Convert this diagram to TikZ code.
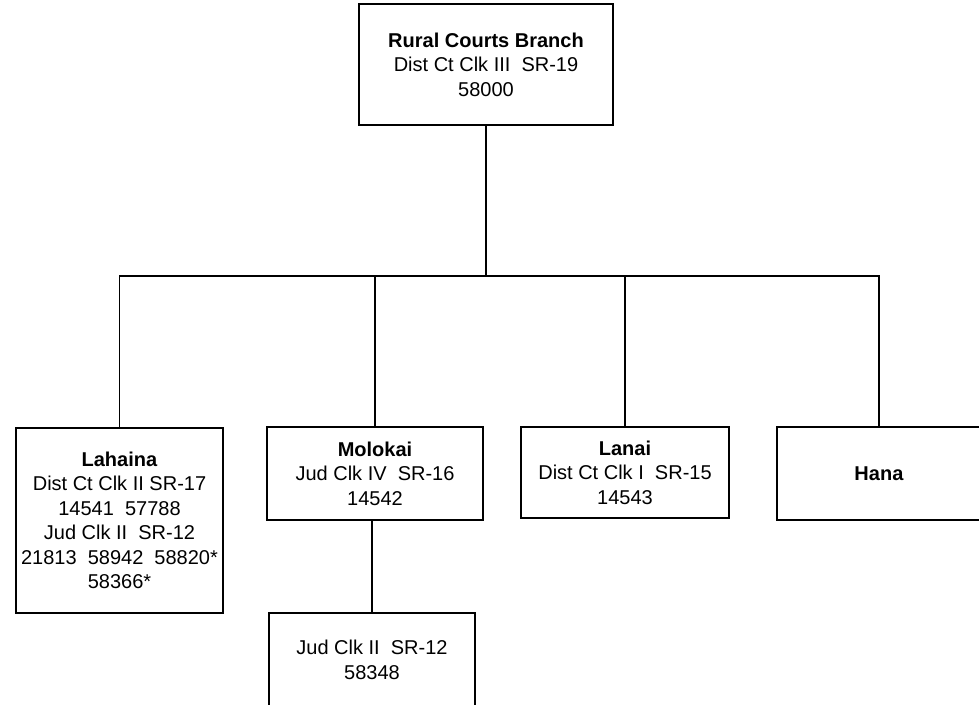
\documentclass[tikz,border=0pt]{standalone}
\usepackage{fontspec}
\setmainfont{Liberation Sans}
\begin{document}
\begin{tikzpicture}[x=1pt,y=-1pt,
  box/.style={draw=black,line width=1.6pt,rectangle,inner sep=0pt,align=center,
    font=\fontsize{20}{24.5}\selectfont},
  conn/.style={draw=black,line width=1.3pt}]
\useasboundingbox (0,0) rectangle (979,704);
\node[box,minimum width=254,minimum height=121] (top) at (486,64.5)
  {\textbf{Rural Courts Branch}\\Dist Ct Clk III~~SR-19\\58000};
\node[box,minimum width=207,minimum height=185] (lah) at (119.5,520.5)
  {\textbf{Lahaina}\\Dist Ct Clk II SR-17\\14541~~57788\\Jud Clk II~~SR-12\\21813~~58942~~58820*\\58366*};
\node[box,minimum width=216,minimum height=93] (mol) at (375,473.5)
  {\textbf{Molokai}\\Jud Clk IV~~SR-16\\14542};
\node[box,minimum width=208,minimum height=91] (lan) at (625,472.5)
  {\textbf{Lanai}\\Dist Ct Clk I~~SR-15\\14543};
\node[box,minimum width=204,minimum height=93] (hana) at (879,473.5)
  {\textbf{Hana}};
\node[box,minimum width=206,minimum height=94] (jud) at (372,660)
  {Jud Clk II~~SR-12\\58348};
\coordinate (bus) at (486,276);
\draw[conn] (top.south) -- (bus);
\draw[conn] (bus) -| (lah.north);
\draw[conn] (bus) -| (mol.north);
\draw[conn] (bus) -| (lan.north);
\draw[conn] (bus) -| (hana.north);
\draw[conn] (mol.south -| jud.north) -- (jud.north);
\end{tikzpicture}
\end{document}
